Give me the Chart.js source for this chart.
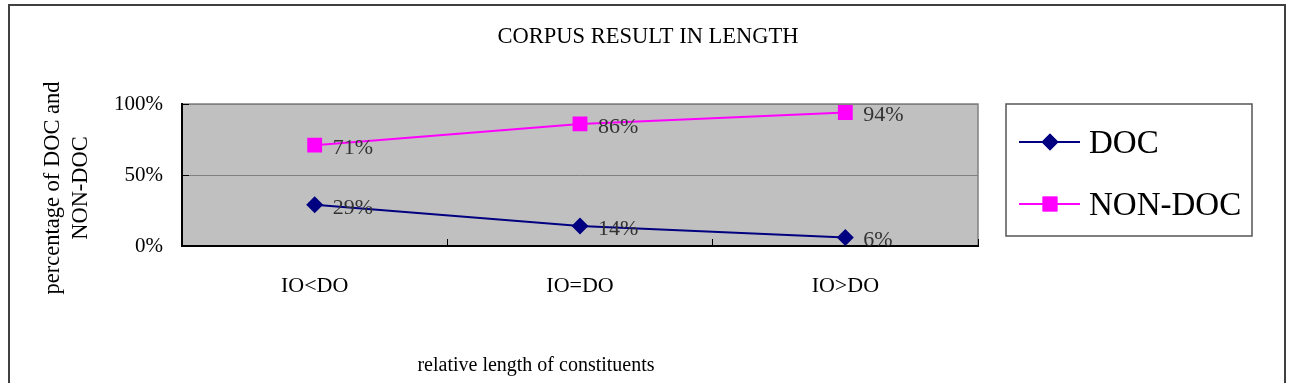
<!DOCTYPE html>
<html>
<head>
<meta charset="utf-8">
<script src="https://cdn.jsdelivr.net/npm/chart.js@4/dist/chart.umd.min.js"></script>
<style>
  body { margin: 0; background: #fff; }
  #wrap { width: 1293px; height: 383px; }
</style>
</head>
<body>
<div id="wrap"><canvas id="lengthChart" width="1293" height="383"></canvas></div>
<script>
// data
var categories = ['IO<DO', 'IO=DO', 'IO>DO'];
var docValues = [29, 14, 6];
var nonDocValues = [71, 86, 94];
var yTicks = [0, 50, 100];

var chartTitle = 'CORPUS RESULT IN LENGTH';
var yTitle = ['percentage of DOC and', 'NON-DOC'];
var xTitle = 'relative length of constituents';

var serif = "'Liberation Serif', 'DejaVu Serif', serif";

// frame, grey plot background, titles, value labels, legend box
var decorations = {
    id: 'decorations',
    beforeDraw: function(chart) {
        var ctx = chart.ctx, a = chart.chartArea;
        ctx.save();
        ctx.fillStyle = '#fff';
        ctx.fillRect(0, 0, chart.width, chart.height);
        ctx.strokeStyle = '#404040';
        ctx.lineWidth = 2;
        ctx.strokeRect(9, 5, 1276, 400);
        ctx.fillStyle = '#c0c0c0';
        ctx.fillRect(a.left, a.top, a.right - a.left, a.bottom - a.top);
        ctx.strokeStyle = '#808080';
        ctx.lineWidth = 1.5;
        ctx.strokeRect(a.left, a.top, a.right - a.left, a.bottom - a.top);
        ctx.restore();
    },
    afterDraw: function(chart) {
        var ctx = chart.ctx;
        ctx.save();
        ctx.fillStyle = '#000';
        ctx.textAlign = 'center';
        ctx.textBaseline = 'middle';
        ctx.font = '22.5px ' + serif;
        ctx.fillText(chartTitle, 648, 37);
        ctx.font = '20px ' + serif;
        ctx.fillText(xTitle, 536, 366);

        ctx.font = '22.5px ' + serif;
        ctx.save();
        ctx.translate(53, 188);
        ctx.rotate(-Math.PI / 2);
        ctx.fillText(yTitle[0], 0, 0);
        ctx.restore();
        ctx.save();
        ctx.translate(81, 188);
        ctx.rotate(-Math.PI / 2);
        ctx.fillText(yTitle[1], 0, 0);
        ctx.restore();

        // value labels next to each point
        ctx.font = '22px ' + serif;
        ctx.textAlign = 'left';
        ctx.fillStyle = '#333';
        chart.data.datasets.forEach(function(ds, i) {
            chart.getDatasetMeta(i).data.forEach(function(pt, j) {
                ctx.fillText(ds.data[j] + '%', pt.x + 18, pt.y + 3);
            });
        });

        // legend
        var lx = 1006, ly = 104, lw = 246, lh = 132;
        ctx.strokeStyle = '#555';
        ctx.lineWidth = 1.5;
        ctx.strokeRect(lx, ly, lw, lh);
        var rows = [142, 204];
        ctx.font = '33px ' + serif;
        chart.data.datasets.forEach(function(ds, i) {
            var y = rows[i];
            ctx.strokeStyle = ds.borderColor;
            ctx.lineWidth = 2;
            ctx.beginPath();
            ctx.moveTo(1019, y);
            ctx.lineTo(1080, y);
            ctx.stroke();
            ctx.fillStyle = ds.backgroundColor;
            Chart.helpers.drawPoint(ctx, {
                pointStyle: ds.pointStyle,
                radius: ds.pointRadius,
                borderWidth: 0,
                rotation: 0
            }, 1050, y);
            ctx.fill();
            ctx.fillStyle = '#000';
            ctx.fillText(ds.label, 1089, y + 2);
        });
        ctx.restore();
    }
};

var ctx = document.getElementById('lengthChart').getContext('2d');
var lengthChart = new Chart(ctx, {
    type: 'line',
    data: {
        labels: categories,
        datasets: [{
            label: 'DOC',
            data: docValues,
            borderColor: '#000080',
            backgroundColor: '#000080',
            borderWidth: 2,
            pointStyle: 'rectRot',
            pointRadius: 8.5,
            pointBorderWidth: 0
        }, {
            label: 'NON-DOC',
            data: nonDocValues,
            borderColor: '#ff00ff',
            backgroundColor: '#ff00ff',
            borderWidth: 2,
            pointStyle: 'rect',
            pointRadius: 10.5,
            pointBorderWidth: 0
        }]
    },
    options: {
        responsive: false,
        animation: false,
        devicePixelRatio: 1,
        layout: { padding: { left: 20, right: 315, top: 104, bottom: 77 } },
        plugins: {
            legend: { display: false },
            title: { display: false },
            tooltip: { enabled: false }
        },
        scales: {
            x: {
                offset: true,
                afterFit: function(scale) { scale.height = 60; },
                grid: {
                    offset: true,
                    drawOnChartArea: false,
                    drawTicks: true,
                    tickLength: -7,
                    tickColor: '#000'
                },
                border: { color: '#000', width: 2 },
                ticks: {
                    padding: 34,
                    color: '#000',
                    font: { family: serif, size: 22 }
                }
            },
            y: {
                min: 0,
                max: 100,
                afterFit: function(scale) { scale.width = 162; },
                afterBuildTicks: function(scale) {
                    scale.ticks = yTicks.map(function(v) { return { value: v }; });
                },
                grid: {
                    color: '#808080',
                    lineWidth: 1,
                    drawTicks: true,
                    tickLength: -7,
                    tickColor: '#000'
                },
                border: { color: '#000', width: 2 },
                ticks: {
                    padding: 26,
                    color: '#000',
                    font: { family: serif, size: 21 },
                    callback: function(v) { return v + '%'; }
                }
            }
        }
    },
    plugins: [decorations]
});
</script>
</body>
</html>
